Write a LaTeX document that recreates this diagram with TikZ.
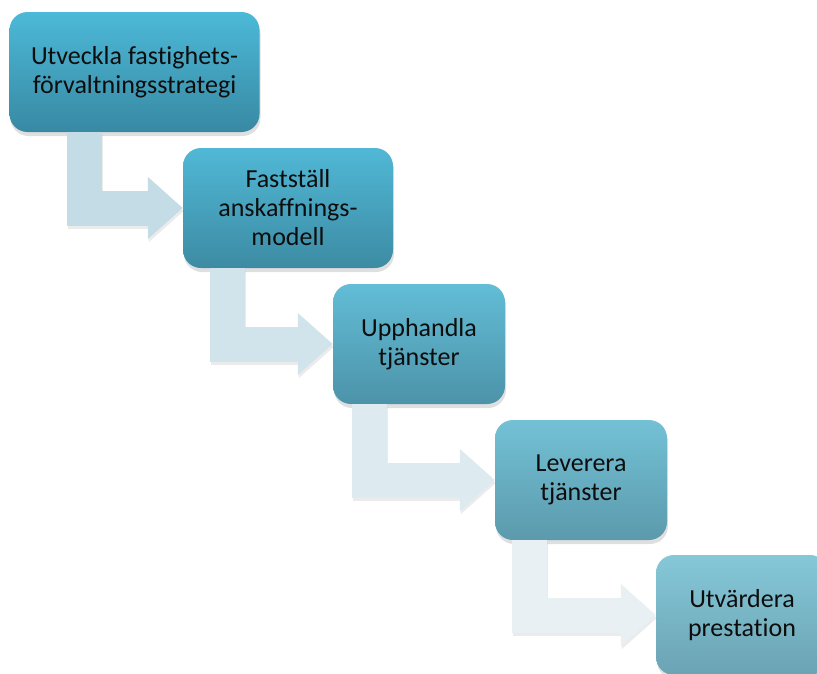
\documentclass[tikz,border=0pt]{standalone}
\usepackage{fontspec}
\setmainfont{Carlito}[Ligatures=NoCommon]
\usetikzlibrary{arrows.meta,shadows}

\definecolor{stepAtop}{HTML}{4CB9D8}
\definecolor{stepAbot}{HTML}{3889A3}
\definecolor{stepBtop}{HTML}{50B8D6}
\definecolor{stepBbot}{HTML}{3D8BA3}
\definecolor{stepCtop}{HTML}{62BDD6}
\definecolor{stepCbot}{HTML}{4C93A9}
\definecolor{stepDtop}{HTML}{73C1D5}
\definecolor{stepDbot}{HTML}{5C9AAD}
\definecolor{stepEtop}{HTML}{85C8D8}
\definecolor{stepEbot}{HTML}{6BA3B3}
\definecolor{flowA}{HTML}{C3DCE5}
\definecolor{flowB}{HTML}{D2E4EB}
\definecolor{flowC}{HTML}{DDEAEF}
\definecolor{flowD}{HTML}{E8F0F3}

\begin{document}
\begin{tikzpicture}
  [x=1pt,y=-1pt,
   every node/.style={rounded corners=18pt, minimum height=120pt, align=center,
     text=black!95, font=\fontsize{26}{29}\selectfont,
     drop shadow={opacity=.25, shadow xshift=1pt, shadow yshift=-4pt}},
   flow/.style={line width=35pt, line join=miter,
     -{Triangle[width=60pt,length=35pt]}}]
  \useasboundingbox (0,0) rectangle (817,673);
  \clip (0,0) rectangle (817,673);
  \node[top color=stepAtop, bottom color=stepAbot, minimum width=250pt] (b1) at (134.5,72) {Utveckla fastighets-\\förvaltningsstrategi};
  \node[top color=stepBtop, bottom color=stepBbot, minimum width=210pt] (b2) at (288,208) {Fastställ\\anskaffnings-\\modell};
  \node[top color=stepCtop, bottom color=stepCbot, minimum width=172pt] (b3) at (419,344) {Upphandla\\tjänster};
  \node[top color=stepDtop, bottom color=stepDbot, minimum width=172pt] (b4) at (581,480) {Leverera\\tjänster};
  \node[top color=stepEtop, bottom color=stepEbot, minimum width=172pt] (b5) at (742,615) {Utvärdera\\prestation};

  \foreach \from/\to/\dx/\col in {b1/b2/75/flowA,b2/b3/45/flowB,b3/b4/37/flowC,b4/b5/35/flowD}
  {
    \draw[flow, black, opacity=.08, transform canvas={xshift=1pt,yshift=-3pt}]
      ([xshift=\dx pt]\from.south west) |- (\to.west);
    \draw[flow, \col] ([xshift=\dx pt]\from.south west) |- (\to.west);
  }
\end{tikzpicture}
\end{document}
